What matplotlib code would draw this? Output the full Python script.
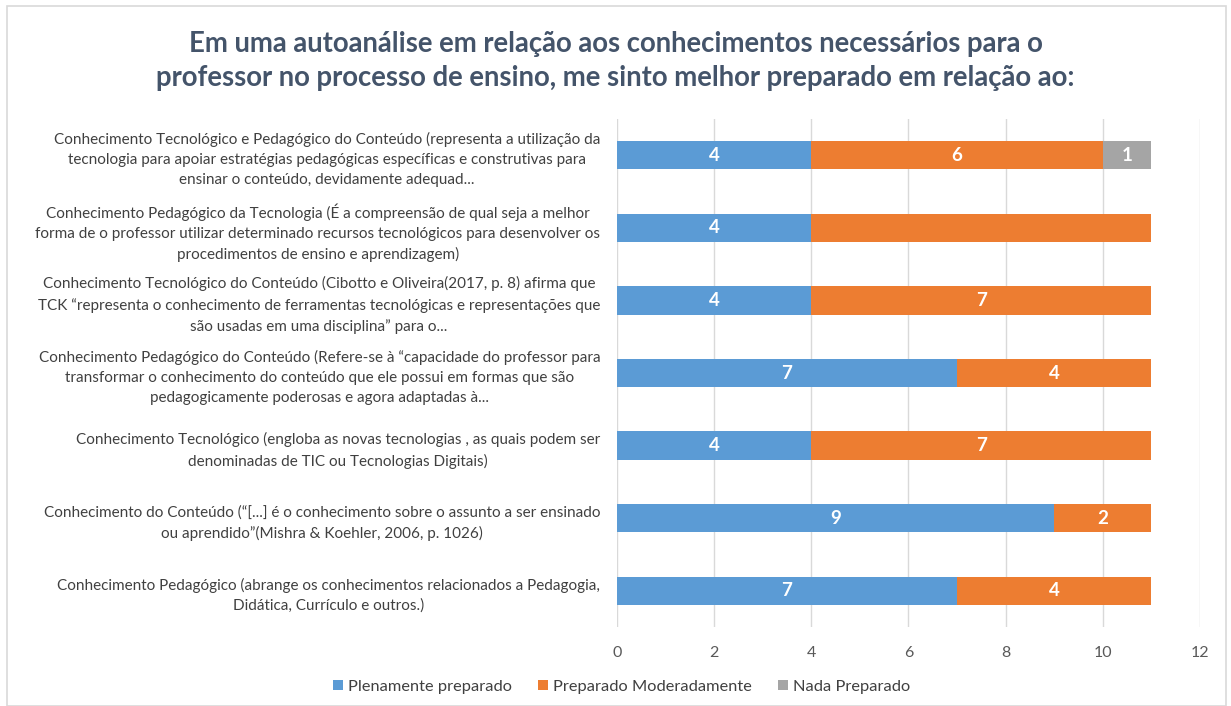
import matplotlib
matplotlib.use("Agg")
import matplotlib.pyplot as plt
from matplotlib.patches import Rectangle, Patch

plt.rcParams['font.family'] = ['Lato', 'DejaVu Sans']

categories = [
    "Conhecimento Tecnológico e Pedagógico do Conteúdo (representa a utilização da\ntecnologia para apoiar estratégias pedagógicas específicas e construtivas para\nensinar o conteúdo, devidamente adequad...",
    "Conhecimento Pedagógico da Tecnologia (É a compreensão de qual seja a melhor\nforma de o professor utilizar determinado recursos tecnológicos para desenvolver os\nprocedimentos de ensino e aprendizagem)",
    "Conhecimento Tecnológico do Conteúdo (Cibotto e Oliveira(2017, p. 8) afirma que\nTCK “representa o conhecimento de ferramentas tecnológicas e representações que\nsão usadas em uma disciplina” para o...",
    "Conhecimento Pedagógico do Conteúdo (Refere-se à “capacidade do professor para\ntransformar o conhecimento do conteúdo que ele possui em formas que são\npedagogicamente poderosas e agora adaptadas à...",
    "Conhecimento Tecnológico (engloba as novas tecnologias , as quais podem ser\ndenominadas de TIC ou Tecnologias Digitais)",
    "Conhecimento do Conteúdo (“[...] é o conhecimento sobre o assunto a ser ensinado\nou aprendido”(Mishra & Koehler, 2006, p. 1026)",
    "Conhecimento Pedagógico (abrange os conhecimentos relacionados a Pedagogia,\nDidática, Currículo e outros.)",
]
series_names = ["Plenamente preparado", "Preparado Moderadamente", "Nada Preparado"]
plenamente = [4, 4, 4, 7, 4, 9, 7]
moderadamente = [6, 7, 7, 4, 7, 2, 4]
nada = [1, 0, 0, 0, 0, 0, 0]
# data labels shown in the original (the 7 of the 2nd row has no label)
show_label = [
    [True, True, True, True, True, True, True],
    [True, False, True, True, True, True, True],
    [True, False, False, False, False, False, False],
]
x_ticks = [0, 2, 4, 6, 8, 10, 12]
title = "Em uma autoanálise em relação aos conhecimentos necessários para o\nprofessor no processo de ensino, me sinto melhor preparado em relação ao:"

colors = ["#5B9BD5", "#ED7D31", "#A5A5A5"]

fig = plt.figure(figsize=(12.31, 7.06), dpi=100)
ax = fig.add_axes([0.5012, 0.1119, 0.4736, 0.7195])

ypos = list(range(len(categories)))
left = [0] * len(categories)
for s, vals in enumerate([plenamente, moderadamente, nada]):
    bars = ax.barh(ypos, vals, left=left, height=0.39, color=colors[s],
                   label=series_names[s], zorder=3)
    for i, (b, v) in enumerate(zip(bars, vals)):
        if v > 0 and show_label[s][i]:
            ax.text(b.get_x() + b.get_width() / 2, b.get_y() + b.get_height() / 2,
                    str(v), ha='center', va='center', color='white',
                    fontsize=13.5, fontweight='bold', zorder=4)
    left = [l + v for l, v in zip(left, vals)]

ax.set_xlim(0, 12)
ax.set_ylim(len(categories) - 0.5, -0.5)
ax.set_xticks(x_ticks)
ax.set_xticklabels([str(t) for t in x_ticks], color="#595959", fontsize=11.5)
ax.set_yticks(ypos)
ax.set_yticklabels(categories, ma='center', color="#404040", fontsize=11,
                   linespacing=1.55)
ax.tick_params(axis='both', length=0)
ax.tick_params(axis='x', pad=14)
ax.tick_params(axis='y', pad=12)
ax.grid(axis='x', color="#D9D9D9", linewidth=1, zorder=0)
for sp in ax.spines.values():
    sp.set_visible(False)

fig.text(0.5, 0.914, title, ha='center', va='center', fontsize=19.8,
         fontweight='bold', color="#44546A", linespacing=1.4)

handles = [Patch(facecolor=c, edgecolor='none') for c in colors]
fig.legend(handles, series_names, loc='center', bbox_to_anchor=(0.505, 0.027),
           ncol=3, frameon=False, fontsize=11.8, handlelength=0.6, handleheight=0.6,
           handletextpad=0.3, columnspacing=1.6, labelcolor="#404040")

fig.patches.append(Rectangle((0.006, 0.0), 0.99, 0.992, transform=fig.transFigure,
                             fill=False, edgecolor="#D9D9D9", linewidth=1.2))

fig.savefig("out.png", dpi=100)
